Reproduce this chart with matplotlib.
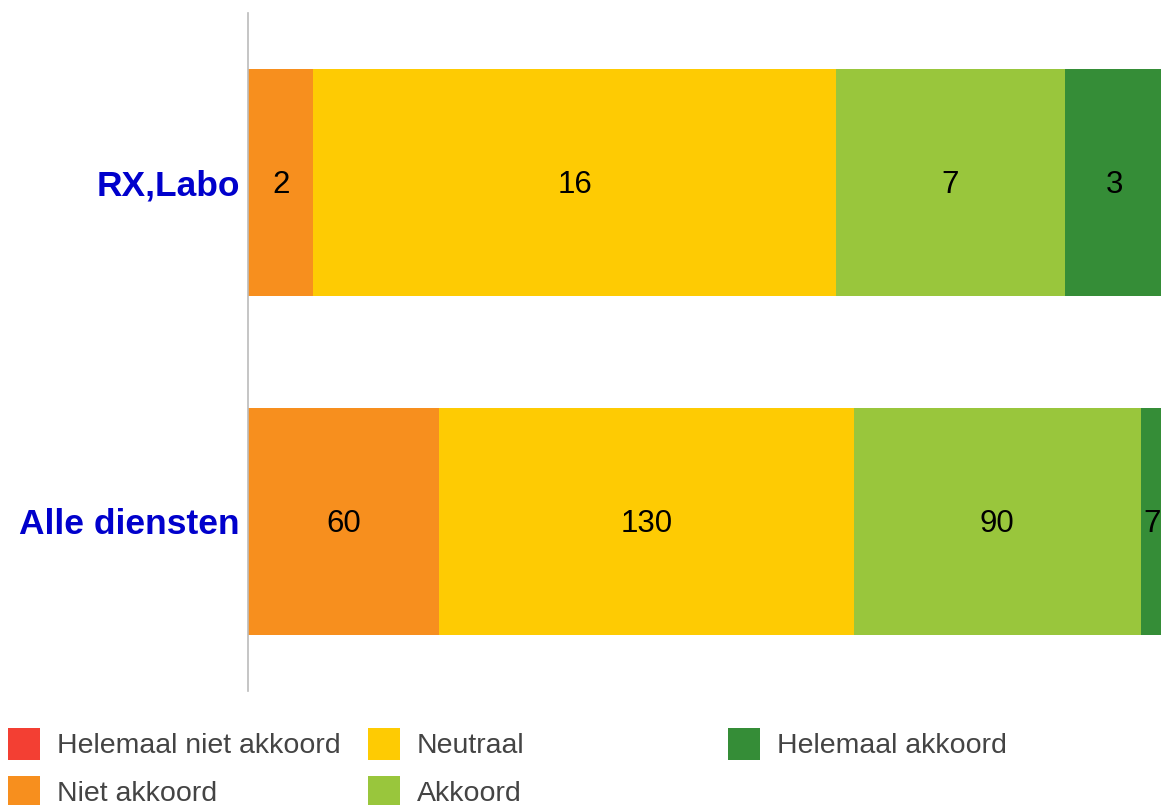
import matplotlib
matplotlib.use("Agg")
import matplotlib.pyplot as plt
from matplotlib.patches import Rectangle
import numpy as np

plt.rcParams['font.family'] = ['Liberation Sans', 'DejaVu Sans']

categories = ["RX,Labo", "Alle diensten"]
series_names = ["Helemaal niet akkoord", "Niet akkoord", "Neutraal", "Akkoord", "Helemaal akkoord"]
helemaal_niet = [0, 0]
niet = [2, 60]
neutraal = [16, 130]
akkoord = [7, 90]
helemaal = [3, 7]
colors = ["#F33F33", "#F78F1E", "#FECB03", "#99C63C", "#358D37"]

series = [helemaal_niet, niet, neutraal, akkoord, helemaal]
data = np.array(series, dtype=float)
totals = data.sum(axis=0)
frac = data / totals

W, H = 1161, 805
fig = plt.figure(figsize=(W / 100, H / 100), dpi=100)
ax = fig.add_axes([248 / W, (H - 691) / H, 915 / W, 678 / H])

ypos = np.arange(len(categories))
left = np.zeros(len(categories))
for i, name in enumerate(series_names):
    ax.barh(ypos, frac[i], left=left, height=0.67, color=colors[i], label=name)
    for j in range(len(categories)):
        if data[i, j] > 0:
            ax.text(left[j] + frac[i, j] / 2, ypos[j] + 0.006, f"{int(data[i, j])}",
                    ha="center", va="center", fontsize=22.5, color="black", clip_on=False)
    left += frac[i]

ax.set_xlim(0, 1)
ax.set_ylim(1.5, -0.5)
ax.set_yticks(ypos)
ax.set_yticklabels(categories, fontsize=25.5, fontweight="bold", color="#0000CC")
ax.tick_params(axis="y", length=0, pad=6)
ax.set_xticks([])
for s in ["top", "right", "bottom"]:
    ax.spines[s].set_visible(False)
ax.spines["left"].set_color("#BBBBBB")
ax.spines["left"].set_linewidth(1.2)

# legend (column-major, 3 columns)
col_x = [8, 368, 728]
row_y = [728, 776]
positions = [(0, 0), (0, 1), (1, 0), (1, 1), (2, 0)]
for name, c, (cx, ry) in zip(series_names, colors, positions):
    x0 = col_x[cx]
    y0 = row_y[ry]
    fig.add_artist(Rectangle((x0 / W, 1 - (y0 + 32) / H), 32 / W, 32 / H,
                             transform=fig.transFigure, color=c, lw=0))
    fig.text((x0 + 49) / W, 1 - (y0 + 18) / H, name, ha="left", va="center",
             fontsize=20.5, color="#444444")

fig.savefig("out.png", dpi=100)
